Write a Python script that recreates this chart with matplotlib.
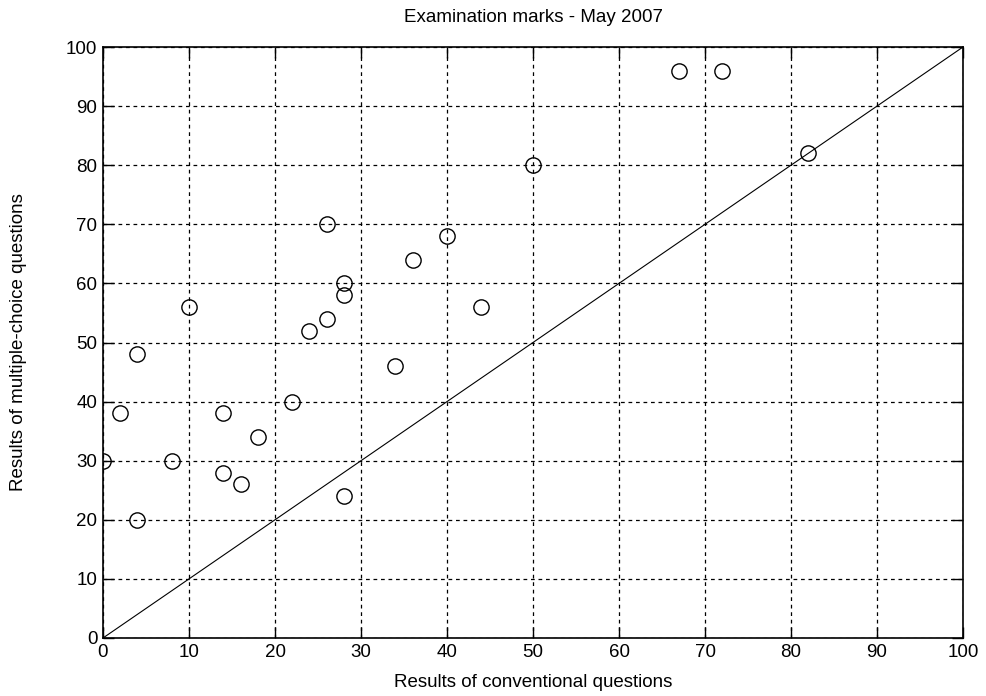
import numpy as np
import matplotlib
matplotlib.use('Agg')
import matplotlib.pyplot as plt

plt.rcParams['font.family'] = ['Liberation Sans', 'DejaVu Sans']

# marks per student
conventional = [0, 2, 4, 4, 8, 10, 14, 14, 16, 18, 22, 24, 26, 26, 28, 28, 28,
                34, 36, 40, 44, 50, 67, 72, 82]
multichoice = [30, 38, 48, 20, 30, 56, 38, 28, 26, 34, 40, 52, 54, 70, 60, 58, 24,
               46, 64, 68, 56, 80, 96, 96, 82]
diag = [0, 100]

fig = plt.figure(figsize=(9.86, 6.96), dpi=100)
ax = fig.add_axes([103/986, 1-638/696, (963-103)/986, (638-47)/696])

ax.plot(conventional, multichoice, 'o', mfc='none', mec='black', ms=11, mew=1.0)
ax.plot(diag, diag, '-', color='black', lw=0.8)

ax.set_xlim(0, 100)
ax.set_ylim(0, 100)
ax.set_xticks(np.arange(0, 101, 10))
ax.set_yticks(np.arange(0, 101, 10))
ax.grid(True, linestyle=(0, (3, 3)), color='black', lw=0.9)
ax.tick_params(direction='in', top=True, right=True, length=8, labelsize=13.5, width=1, pad=4)
for s in ax.spines.values():
    s.set_linewidth(1.2)

ax.set_title('Examination marks - May 2007', fontsize=13.5, pad=18)
ax.set_xlabel('Results of conventional questions', fontsize=13.5, labelpad=10)
ax.set_ylabel('Results of multiple-choice questions', fontsize=13.5, labelpad=28)

fig.savefig('out.png', dpi=100)
